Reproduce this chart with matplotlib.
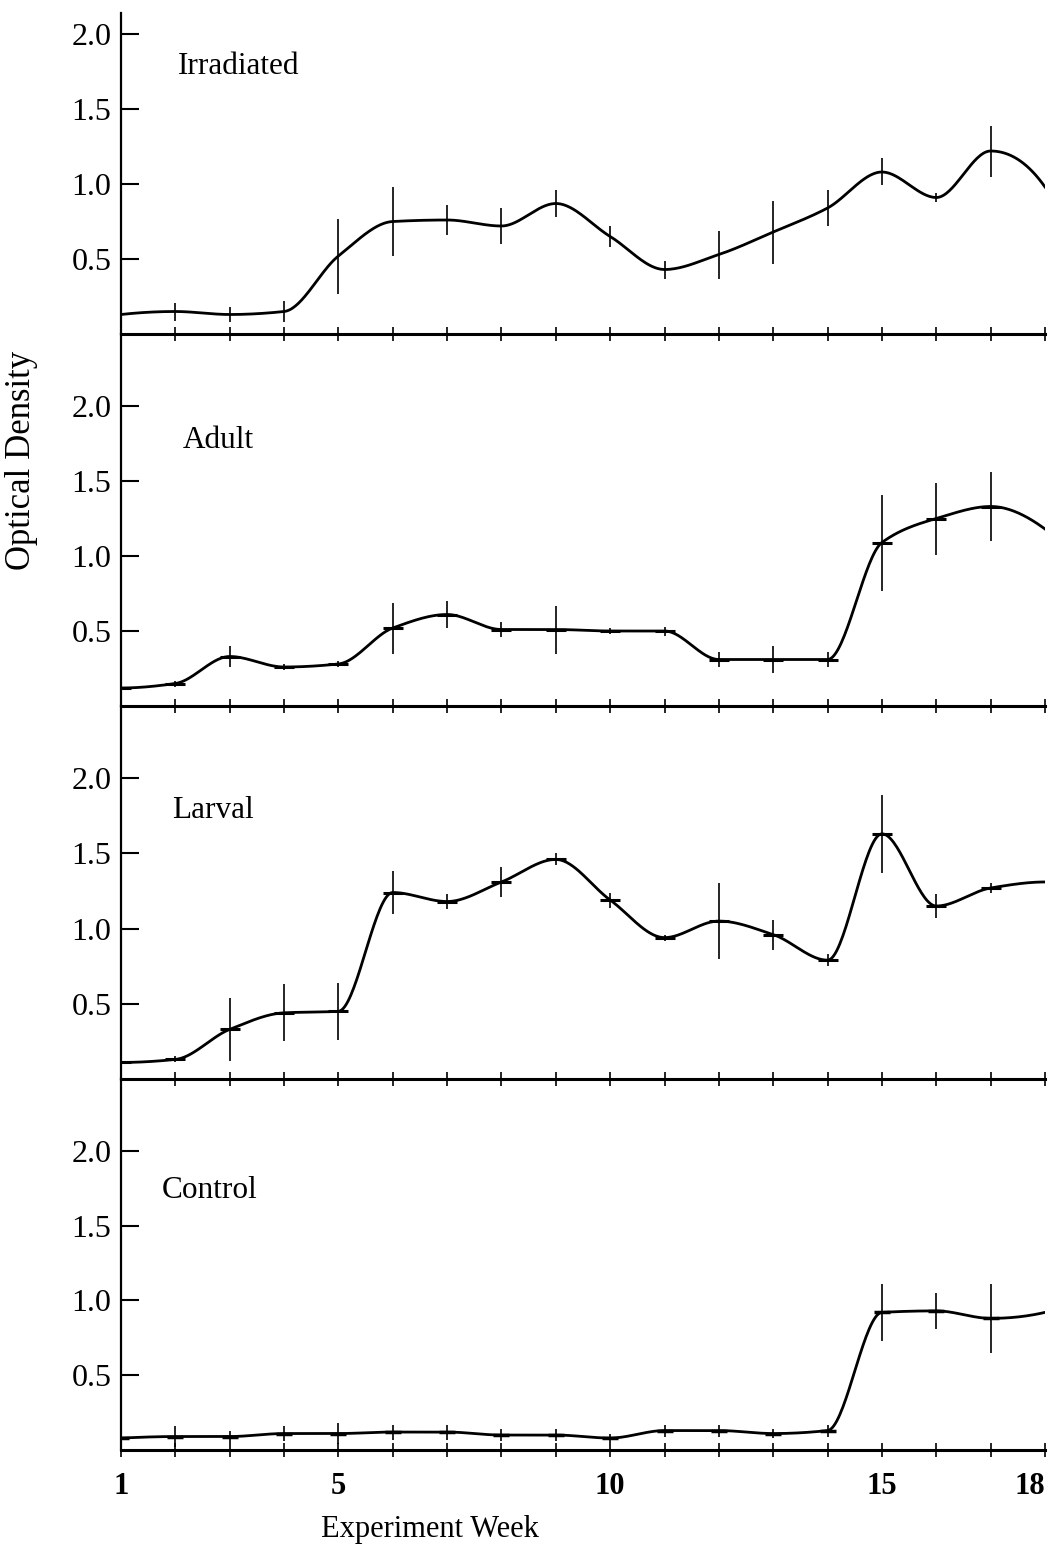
"""Optical density by experiment week, four stacked treatment panels."""
import numpy as np
import matplotlib
matplotlib.use('Agg')
import matplotlib.pyplot as plt


WEEKS = list(range(1, 19))

PANELS = ['Irradiated', 'Adult', 'Larval', 'Control']

IRRADIATED = [0.13, 0.15, 0.13, 0.15, 0.52, 0.75, 0.76, 0.72, 0.87, 0.65, 0.43, 0.53, 0.68, 0.84, 1.08, 0.91, 1.22, 0.98]
IRRADIATED_ERR = [0, 0.06, 0.05, 0.07, 0.25, 0.23, 0.10, 0.12, 0.09, 0.07, 0.06, 0.16, 0.21, 0.12, 0.09, 0.03, 0.17, 0]

ADULT = [0.12, 0.15, 0.33, 0.26, 0.28, 0.52, 0.61, 0.51, 0.51, 0.50, 0.50, 0.31, 0.31, 0.31, 1.09, 1.25, 1.33, 1.18]
ADULT_ERR = [0, 0.02, 0.07, 0.02, 0.02, 0.17, 0.09, 0.05, 0.16, 0.02, 0.03, 0.05, 0.09, 0.05, 0.32, 0.24, 0.23, 0]

LARVAL = [0.11, 0.13, 0.33, 0.44, 0.45, 1.24, 1.18, 1.31, 1.46, 1.19, 0.94, 1.05, 0.96, 0.79, 1.63, 1.15, 1.27, 1.31]
LARVAL_ERR = [0, 0.02, 0.21, 0.19, 0.19, 0.14, 0.05, 0.10, 0.04, 0.05, 0.02, 0.25, 0.10, 0.04, 0.26, 0.08, 0.03, 0]

CONTROL = [0.08, 0.09, 0.09, 0.11, 0.11, 0.12, 0.12, 0.10, 0.10, 0.08, 0.13, 0.13, 0.11, 0.13, 0.92, 0.93, 0.88, 0.92]
CONTROL_ERR = [0.02, 0.07, 0.04, 0.05, 0.07, 0.05, 0.05, 0.04, 0.04, 0.03, 0.04, 0.04, 0.03, 0.04, 0.19, 0.12, 0.23, 0]

Y_TICKS = [0.5, 1.0, 1.5, 2.0]
X_LABELED = [1, 5, 10, 15, 18]


def pchip(x, y, xs):
    # shape-preserving cubic, like the hand-smoothed curves in the original
    x = np.asarray(x, float); y = np.asarray(y, float)
    h = np.diff(x); d = np.diff(y) / h
    n = len(x)
    m = np.zeros(n)
    for k in range(1, n - 1):
        if d[k-1] * d[k] > 0:
            w1 = 2*h[k] + h[k-1]; w2 = h[k] + 2*h[k-1]
            m[k] = (w1 + w2) / (w1/d[k-1] + w2/d[k])
    for k, (a, b, ha, hb) in ((0, (d[0], d[1], h[0], h[1])), (n-1, (d[-1], d[-2], h[-1], h[-2]))):
        s = ((2*ha + hb)*a - ha*b) / (ha + hb)
        if np.sign(s) != np.sign(a):
            s = 0.0
        elif np.sign(a) != np.sign(b) and abs(s) > abs(3*a):
            s = 3*a
        m[k] = s
    idx = np.clip(np.searchsorted(x, xs) - 1, 0, n - 2)
    t = (xs - x[idx]) / h[idx]
    h00 = 2*t**3 - 3*t**2 + 1; h10 = t**3 - 2*t**2 + t
    h01 = -2*t**3 + 3*t**2; h11 = t**3 - t**2
    return h00*y[idx] + h10*h[idx]*m[idx] + h01*y[idx+1] + h11*h[idx]*m[idx+1]


plt.rcParams['font.family'] = ['Liberation Serif', 'DejaVu Serif']

series = [(IRRADIATED, IRRADIATED_ERR), (ADULT, ADULT_ERR),
          (LARVAL, LARVAL_ERR), (CONTROL, CONTROL_ERR)]
ytops = [2.14, 2.48, 2.48, 2.48]
markers = [None, dict(marker='_', ms=15, mew=2.2), dict(marker='_', ms=15, mew=2.2),
           dict(marker='_', ms=11, mew=2.5)]
label_pos = [(178, 67), (183, 441), (172, 810), (162, 1190)]   # pixels in the figure

W, H = 1051, 1551
fig = plt.figure(figsize=(W/100, H/100), dpi=100)
gs = fig.add_gridspec(4, 1, height_ratios=[321, 372, 373, 371], hspace=0,
                      left=121/W, right=1045/W, top=1-13/H, bottom=1-1450/H)

xs = np.linspace(1, 18, 600)
for i, (vals, errs) in enumerate(series):
    ax = fig.add_subplot(gs[i])
    ax.patch.set_visible(False)
    ax.plot(xs, pchip(WEEKS, vals, xs), color='black', lw=2.0, zorder=3)
    mask = np.array(errs) > 0
    ax.errorbar(np.array(WEEKS)[mask], np.array(vals)[mask], yerr=np.array(errs)[mask],
                fmt='none', ecolor='black', elinewidth=1.2, capsize=0, zorder=4)
    if markers[i]:
        ax.plot(WEEKS[:-1], vals[:-1], linestyle='none', color='black', zorder=5, **markers[i])

    ax.set_xlim(1, 18)
    ax.set_ylim(0, ytops[i])
    for s in ('top', 'right'):
        ax.spines[s].set_visible(False)
    ax.spines['bottom'].set_linewidth(2.2)
    ax.spines['left'].set_linewidth(1.6)

    ax.set_yticks(Y_TICKS)
    ax.set_yticklabels([f'{v:.1f}' for v in Y_TICKS], fontsize=23)
    ax.tick_params(axis='y', direction='in', length=13, width=1.5, pad=7)

    ax.set_xticks(WEEKS)
    ax.tick_params(axis='x', direction='inout', length=10, width=1.2)
    if i == 3:
        ax.set_xticklabels([str(w) if w in X_LABELED else '' for w in WEEKS],
                           fontsize=22, fontweight='bold')
        ax.tick_params(axis='x', pad=11)
        ax.get_xticklabels()[-1].set_horizontalalignment('right')
    else:
        ax.set_xticklabels([])

    lx, ly = label_pos[i]
    fig.text(lx/W, 1 - ly/H, PANELS[i], fontsize=22.5, ha='left', va='center')

fig.text(22/W, 1 - 460/H, 'Optical Density', fontsize=25, rotation=90,
         ha='center', va='center')
fig.text(430/W, 1 - 1530/H, 'Experiment Week', fontsize=22, ha='center', va='center')

fig.savefig('out.png', dpi=100)
